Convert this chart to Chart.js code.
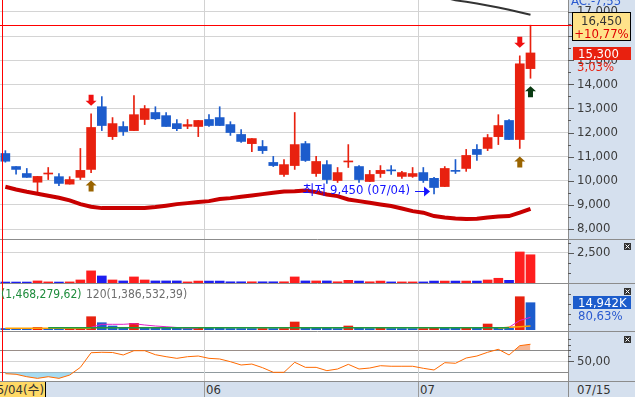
<!DOCTYPE html>
<html><head><meta charset="utf-8">
<script src="https://cdn.jsdelivr.net/npm/chart.js@4.4.1/dist/chart.umd.min.js"></script>
<style>
html,body{margin:0;padding:0;background:#fff;}
#wrap{position:relative;width:635px;height:397px;overflow:hidden;}
#wrap canvas{position:absolute;left:0;}
.t{position:absolute;font-family:'Liberation Sans Narrow','DejaVu Sans Condensed','Noto Sans CJK KR',sans-serif;font-size:13px;white-space:nowrap;line-height:13px;}
</style></head><body>
<div id="wrap">
<canvas id="p1" width="635" height="240" style="top:0px"></canvas>
<canvas id="p2" width="635" height="44" style="top:239px"></canvas>
<canvas id="p3" width="635" height="48" style="top:283px"></canvas>
<canvas id="p4" width="635" height="50" style="top:331px"></canvas>
<div style="position:absolute;left:0;top:381px;width:635px;height:16px;background:#d5e0ee;border-top:1px solid #8c8c8c;box-sizing:border-box;"></div>
<div id="sepA" style="position:absolute;top:382px;width:1px;height:15px;background:#9a9a9a;"></div>
<div id="sepB" style="position:absolute;top:382px;width:1px;height:15px;background:#9a9a9a;"></div>
<div style="position:absolute;left:568px;top:382px;width:1px;height:15px;background:#8c8c8c;"></div>
<div class="t" style="left:-20px;top:382px;width:66px;height:15px;background:#ffd966;border-right:1px solid #000;padding-right:1px;text-align:right;line-height:15px;color:#333;box-sizing:border-box;">05/04(수)</div>
<div class="t" id="m06" style="top:383px;color:#333;">06</div>
<div class="t" id="m07" style="top:383px;color:#333;">07</div>
<div class="t" style="left:577px;top:383px;color:#333;">07/15</div>
<div class="t" style="left:571px;top:-6px;color:#2a5ad0;">AC:-7,55</div>
<div class="t" style="left:572px;top:12px;width:59px;height:29px;background:#ffe28a;border:1px solid #000;box-sizing:border-box;text-align:center;padding-top:1px;">
 <div style="color:#333;">16,450</div><div style="color:#e00000;">+10,77%</div></div>
<div class="t" style="left:573px;top:47px;width:58px;height:13px;background:#e8210f;color:#fff;padding-left:5px;box-sizing:border-box;">15,300</div>
<div class="t" style="left:577px;top:60px;color:#e8210f;">3,03%</div>
<div class="t" style="left:1px;top:288px;font-size:12px;color:#1e8c3c;">(1,468,279,62)</div>
<div class="t" style="left:86px;top:288px;font-size:12px;color:#6e6e6e;">120(1,386,532,39)</div>
<div class="t" style="left:573px;top:296px;width:58px;height:13px;background:#1c5ccc;color:#fff;padding-left:5px;box-sizing:border-box;">14,942K</div>
<div class="t" style="left:578px;top:309px;color:#2a5ad0;">80,63%</div>
</div>
<script>
const FONT = "'Liberation Sans Narrow','DejaVu Sans Condensed','Noto Sans CJK KR',sans-serif";

const dates = ['05/04','05/06','05/09','05/10','05/11','05/12','05/13','05/16','05/17','05/18','05/19','05/20','05/23','05/24','05/25','05/26','05/27','05/30','05/31',
 '06/02','06/03','06/07','06/08','06/09','06/10','06/13','06/14','06/15','06/16','06/17','06/20','06/21','06/22','06/23','06/24','06/27','06/28','06/29','06/30',
 '07/01','07/04','07/05','07/06','07/07','07/08','07/11','07/12','07/13','07/14','07/15'];
const emptySlots = ['', '', ''];

const openP  = [11130,10590,10300,9940,10280,10170,9860,10140,10470,13070, 11830,12250,12080,12540,12830,12700,12370,12260,12250,12540, 12620,12330,11920,11540,11420,10760,10260,10630,11540,10300, 10670,10010,10780,10590,9970,10300,10440,10180,10180,10340, 10100,9760,10400,10510,11300,11340,11830,12500,11710,14650];
const closeP = [10810,10470,10140,10180,10300,9890,10050,10430,12210,12290, 12370,12040,12740,12990,12570,12250,12160,12330,12500,12290, 12290,12000,11630,11750,11250,10630,10670,11500,10840,10800, 10050,10340,10800,10050,10260,10430,10410,10340,10300,10010, 9720,10510,10390,11050,11090,11790,12290,11710,14850,15300];
const highP  = [11250,10590,10510,10180,10550,10300,10170,11340,12780,13490, 12620,12450,13530,13120,13070,12830,12540,12540,12500,12740, 13070,12450,12120,11750,11670,11010,10880,12830,11630,11010, 10840,10550,11500,10630,10430,10630,10630,10390,10550,10550, 10140,10590,10880,11300,11500,11920,12740,12540,15180,16450];
const lowP   = [10770,10270,10140,9430,10050,9800,9860,10050,10340,12080, 11710,11880,12080,12330,12540,12250,12080,12160,11830,12250, 12290,11880,11590,11210,11130,10590,10180,10470,10800,10180, 9890,9930,10550,9930,9970,10140,10260,10100,10140,9930, 9450,9760,10300,10390,10840,11250,11500,11710,11340,14250];
const maLong = [9750,9640,9545,9462,9380,9296,9185,9032,8924,8866, 8866,8866,8866,8866,8908,8966,9032,9073,9115,9156, 9240,9280,9338,9392,9446,9503,9557,9570,9600,9530, 9433,9363,9226,9156,9090,9020,8950,8850,8740,8676, 8535,8481,8440,8411,8427,8481,8523,8535,8676,8838];
const maTop = [null,null,null,null,null,null,null,null,null,null, null,null,null,null,null,null,null,null,null,null, null,null,null,null,null,null,null,null,null,null, null,null,null,null,null,null,null,null,null,null, null,17600,17480,17420,17350,17270,17180,17090,16985,16880];

const volume = [80,80,80,170,90,80,90,250,1000,580, 250,170,500,250,170,170,170,90,160,160, 160,100,100,100,100,100,100,500,170,170, 170,100,220,160,100,160,90,90,90,90, 160,160,160,160,160,250,390,220,2560,2330];

const amount = [820,800,780,1400,800,780,820,1400,7280,4000, 2190,1480,3660,1480,1450,1420,1400,820,1100,1080, 1060,820,810,800,820,800,830,4380,1100,1080, 1060,820,2190,1100,820,1100,820,810,800,820, 1100,1080,1060,1100,1080,3280,1370,1100,18220,14942];
const amtGreen = [null,null,null,null,1260,1260,1260,1260,1260,1260, 1260,1260,1260,1260,1260,1260,1260,1260,1260,1260, 1260,1260,1260,1260,1260,1260,1260,1260,1260,1260, 1260,1260,1260,1260,1260,1260,1260,1260,1260,1260, 1260,1260,1260,1260,1260,1260,1260,1260,null,null];
const amtOrange = [930,930,930,930,930,930,930,930,930,null, null,null,null,null,null,null,null,null,null,null, null,null,null,null,null,null,null,null,null,null, null,null,null,null,null,null,null,null,null,null, null,null,null,null,null,null,1000,1500,1800,2190];
const amtMagenta = [null,null,null,null,null,null,null,null,1480,3120, 3120,3120,3450,2740,2190,1800,1370,930,930,null, null,null,null,null,null,null,null,null,null,null, null,null,null,null,null,null,null,null,null,null, null,null,null,null,null,null,1000,1480,5200,6950];

const osc = [27.5,26.4,22,19,22,19,25,39,65.6,66.4, 66,61.5,69.3,69.3,62,58.4,55.4,58.4,59.6,55.4, 54.2,49.3,43.3,45,38.4,30,30,48.2,39,39, 33,36,44.5,36,37.8,42,41,41,41,37.3, 34.2,47.5,46.4,56,59.6,66.4,71.8,61.5,78.4,81];

const priceTicks = [8000,9000,10000,11000,12000,13000,14000,15000,16000,17000];
const priceMinor = [8500,9500,10500,11500,12500,13500,14500,15500,16500];
const volTicks = [2500];
const volMinor = [0,833,1667,3333];
const amtMinor = [3100,8600,14100,19500];
const oscTicks = [30,50,70];
const oscMinor = [60,70,80,90];

const markers = [{i:8,type:'sell'},{i:8,type:'buy'},{i:48,type:'sell'},{i:48,type:'buy'},{i:49,type:'buy2'}];
const lowNote = {i:40, text:'최저 9,450 (07/04)', price:9450};
const cross = {i:0, price:16450};

const xLabels = dates.concat(emptySlots);
const UP = '#e8210f', DOWN = '#1c5ccc';
const VUP = '#ff1e1e', VDOWN = '#1e1ef0';
const candleColor = (i) => closeP[i] >= openP[i] ? UP : DOWN;
const monthStarts = dates.map((d,i)=> i>0 && d.slice(0,2)!==dates[i-1].slice(0,2) ? i : -1).filter(i=>i>0);

function boundaryX(xs, i){ return (xs.getPixelForValue(i-1)+xs.getPixelForValue(i))/2; }

const panelPlugin = {
  id: 'panel',
  beforeDraw(chart, args, o) {
    const {ctx, chartArea:a, width, height} = chart;
    ctx.save();
    ctx.fillStyle = '#d5e0ee';
    ctx.fillRect(a.right, 0, width - a.right, height);
    ctx.restore();
  },
  beforeDatasetsDraw(chart) {
    const xs = chart.scales.x, {ctx, height} = chart;
    ctx.save(); ctx.strokeStyle = '#d2d2d2'; ctx.lineWidth = 1;
    monthStarts.forEach(i => {
      const x = Math.round(boundaryX(xs, i)) + 0.5;
      ctx.beginPath(); ctx.moveTo(x, 0); ctx.lineTo(x, height); ctx.stroke();
    });
    ctx.restore();
  },
  afterDraw(chart, args, o) {
    const {ctx, chartArea:a, width, height} = chart;
    const ys = chart.scales.y, xs = chart.scales.x;
    ctx.save();
    ctx.strokeStyle = '#5a5a5a'; ctx.lineWidth = 1;
    (o.minor||[]).forEach(v => { const y = Math.round(ys.getPixelForValue(v))+0.5; ctx.beginPath(); ctx.moveTo(a.right, y); ctx.lineTo(a.right+3, y); ctx.stroke(); });
    (o.major||[]).forEach(v => { const y = Math.round(ys.getPixelForValue(v))+0.5; ctx.beginPath(); ctx.moveTo(a.right, y); ctx.lineTo(a.right+6, y); ctx.stroke(); });
    if (o.topBorder) {
      ctx.strokeStyle = '#8c8c8c';
      ctx.beginPath(); ctx.moveTo(0, 0.5); ctx.lineTo(width, 0.5); ctx.stroke();
    }
    if (o.closeBtn !== undefined) {
      const bx = 624, by = o.closeBtn;
      ctx.fillStyle = '#333'; ctx.fillRect(bx, by, 7, 7);
      ctx.strokeStyle = '#fff'; ctx.beginPath();
      ctx.moveTo(bx+1.5, by+1.5); ctx.lineTo(bx+5.5, by+5.5);
      ctx.moveTo(bx+5.5, by+1.5); ctx.lineTo(bx+1.5, by+5.5); ctx.stroke();
    }
    const cx = Math.round(xs.getPixelForValue(cross.i) - 3) + 0.5;
    ctx.strokeStyle = '#ff0000';
    ctx.beginPath(); ctx.moveTo(cx, 0); ctx.lineTo(cx, height); ctx.stroke();
    if (o.crossH) {
      const cy = Math.round(ys.getPixelForValue(cross.price)) + 0.5;
      ctx.beginPath(); ctx.moveTo(0, cy); ctx.lineTo(a.right+4, cy); ctx.stroke();
    }
    ctx.restore();
  }
};

function drawArrow(ctx, x, tipY, dir, color) {
  ctx.fillStyle = color;
  ctx.beginPath();
  if (dir === 'down') {
    ctx.rect(x-2.5, tipY-11, 5, 6);
    ctx.moveTo(x-5.5, tipY-5); ctx.lineTo(x+5.5, tipY-5); ctx.lineTo(x, tipY);
  } else {
    ctx.rect(x-2.5, tipY+5, 5, 6);
    ctx.moveTo(x-5.5, tipY+5); ctx.lineTo(x+5.5, tipY+5); ctx.lineTo(x, tipY);
  }
  ctx.closePath(); ctx.fill();
}

const markPlugin = {
  id: 'marks',
  afterDatasetsDraw(chart) {
    const {ctx} = chart, xs = chart.scales.x, ys = chart.scales.y;
    ctx.save();
    markers.forEach(m => {
      const x = xs.getPixelForValue(m.i);
      if (m.type === 'sell') drawArrow(ctx, x, ys.getPixelForValue(highP[m.i]) - 8, 'down', '#f01010');
      else if (m.type === 'buy') drawArrow(ctx, x, ys.getPixelForValue(lowP[m.i]) + 8, 'up', '#9a6400');
      else drawArrow(ctx, x, ys.getPixelForValue(lowP[m.i]) + 8, 'up', '#0a3a12');
    });
    const lx = xs.getPixelForValue(lowNote.i), ly = ys.getPixelForValue(lowNote.price) - 3;
    ctx.fillStyle = '#1414ff'; ctx.strokeStyle = '#1414ff'; ctx.lineWidth = 1;
    ctx.font = '13px ' + FONT; ctx.textAlign = 'right'; ctx.textBaseline = 'middle';
    ctx.fillText(lowNote.text, lx - 24, ly);
    const yy = Math.round(ly) + 0.5;
    ctx.beginPath(); ctx.moveTo(lx - 19, yy); ctx.lineTo(lx - 9, yy); ctx.stroke();
    ctx.beginPath(); ctx.moveTo(lx - 10, yy - 5); ctx.lineTo(lx - 4, yy); ctx.lineTo(lx - 10, yy + 5); ctx.closePath(); ctx.fill();
    ctx.restore();
  }
};

const xCfg = () => ({type:'category', labels:xLabels, offset:true, display:false});
const fitRight = (s) => { s.width = 67; s.paddingTop = 0; s.paddingBottom = 0; };
const tickFont = {family:FONT, size:13};
const common = {responsive:false, animation:false, events:[], layout:{padding:0},
  plugins:{legend:{display:false}, tooltip:{enabled:false}}};

new Chart(document.getElementById('p1'), {
  type:'bar',
  data:{labels:xLabels, datasets:[
    {type:'line', data:maTop, borderColor:'#333', borderWidth:2, pointRadius:0, spanGaps:false},
    {type:'line', data:maLong, borderColor:'#c80000', borderWidth:4, pointRadius:0},
    {type:'bar', data:openP.map((o,i)=>[o, closeP[i]]), backgroundColor:(c)=>candleColor(c.dataIndex), barThickness:9, minBarLength:1, grouped:false, borderWidth:0},
    {type:'bar', data:lowP.map((l,i)=>[l, highP[i]]), backgroundColor:(c)=>candleColor(c.dataIndex), barThickness:1, grouped:false, borderWidth:0}
  ]},
  options:Object.assign({}, common, {
    scales:{x:xCfg(), y:{position:'right', min:7544, max:17495, afterFit:fitRight,
      border:{display:true, color:'#8c8c8c'},
      afterBuildTicks(s){ s.ticks = priceTicks.map(v=>({value:v})); },
      ticks:{padding:9, autoSkip:false, color:'#3c3c3c', font:tickFont, callback:(v)=>v.toLocaleString('en-US')},
      grid:{drawTicks:false, color:'#d4d4d4'}}},
    plugins:Object.assign({}, common.plugins, {panel:{minor:priceMinor, major:priceTicks, crossH:true}})
  }),
  plugins:[panelPlugin, markPlugin]
});

new Chart(document.getElementById('p2'), {
  type:'bar',
  data:{labels:xLabels, datasets:[
    {data:volume, backgroundColor:(c)=> closeP[c.dataIndex] >= openP[c.dataIndex] ? VUP : VDOWN, barThickness:9, borderWidth:0}
  ]},
  options:Object.assign({}, common, {
    scales:{x:xCfg(), y:{position:'right', min:0, max:3630, afterFit:fitRight,
      border:{display:true, color:'#8c8c8c'},
      afterBuildTicks(s){ s.ticks = volTicks.map(v=>({value:v})); },
      ticks:{padding:9, autoSkip:false, color:'#3c3c3c', font:tickFont, callback:(v)=>v.toLocaleString('en-US')},
      grid:{drawTicks:false, color:'#d4d4d4'}}},
    plugins:Object.assign({}, common.plugins, {panel:{minor:volMinor, major:volTicks, topBorder:true, closeBtn:4}})
  }),
  plugins:[panelPlugin]
});

new Chart(document.getElementById('p3'), {
  type:'bar',
  data:{labels:xLabels, datasets:[
    {type:'line', data:amtGreen, borderColor:'#1e9a3c', borderWidth:1.5, pointRadius:0},
    {type:'line', data:amtOrange, borderColor:'#ffa000', borderWidth:1.5, pointRadius:0},
    {type:'line', data:amtMagenta, borderColor:'#e020c8', borderWidth:1, pointRadius:0},
    {type:'bar', data:amount, backgroundColor:(c)=> (c.dataIndex>0 && amount[c.dataIndex] > amount[c.dataIndex-1]) ? UP : DOWN, barThickness:9, borderWidth:0}
  ]},
  options:Object.assign({}, common, {
    layout:{padding:{bottom:1}},
    scales:{x:xCfg(), y:{position:'right', min:0, max:25724, afterFit:fitRight,
      border:{display:true, color:'#8c8c8c'},
      ticks:{display:false}, grid:{display:false, drawTicks:false}}},
    plugins:Object.assign({}, common.plugins, {panel:{minor:amtMinor, major:[], topBorder:true, closeBtn:5}})
  }),
  plugins:[panelPlugin]
});

new Chart(document.getElementById('p4'), {
  type:'line',
  data:{labels:xLabels, datasets:[
    {data:osc, borderColor:'#ff6a00', borderWidth:1, pointRadius:0, fill:{target:{value:70}, above:'rgba(245,170,130,0.85)', below:'rgba(0,0,0,0)'}},
    {data:osc, borderColor:'rgba(0,0,0,0)', borderWidth:0, pointRadius:0, fill:{target:{value:30}, above:'rgba(0,0,0,0)', below:'#a8dcf2'}}
  ]},
  options:Object.assign({}, common, {
    scales:{x:xCfg(), y:{position:'right', min:14.2, max:105.1, afterFit:fitRight,
      border:{display:true, color:'#8c8c8c'},
      afterBuildTicks(s){ s.ticks = oscTicks.map(v=>({value:v})); },
      ticks:{padding:9, autoSkip:false, color:'#3c3c3c', font:tickFont, callback:(v)=> v===50 ? '50,00' : ''},
      grid:{drawTicks:false, color:(c)=> c.tick && c.tick.value===50 ? '#d4d4d4' : '#8a8a8a'}}},
    plugins:Object.assign({}, common.plugins, {panel:{minor:oscMinor, major:[50], topBorder:true, closeBtn:5}})
  }),
  plugins:[panelPlugin]
});

const xs4 = Chart.getChart('p4').scales.x;
const b06 = boundaryX(xs4, monthStarts[0]), b07 = boundaryX(xs4, monthStarts[1]);
document.getElementById('sepA').style.left = Math.round(b06) + 'px';
document.getElementById('sepB').style.left = Math.round(b07) + 'px';
const m06 = document.getElementById('m06'); m06.style.left = (Math.round(b06) + 2) + 'px'; m06.textContent = dates[monthStarts[0]].slice(0,2);
const m07 = document.getElementById('m07'); m07.style.left = (Math.round(b07) + 2) + 'px'; m07.textContent = dates[monthStarts[1]].slice(0,2);
</script>
</body></html>
